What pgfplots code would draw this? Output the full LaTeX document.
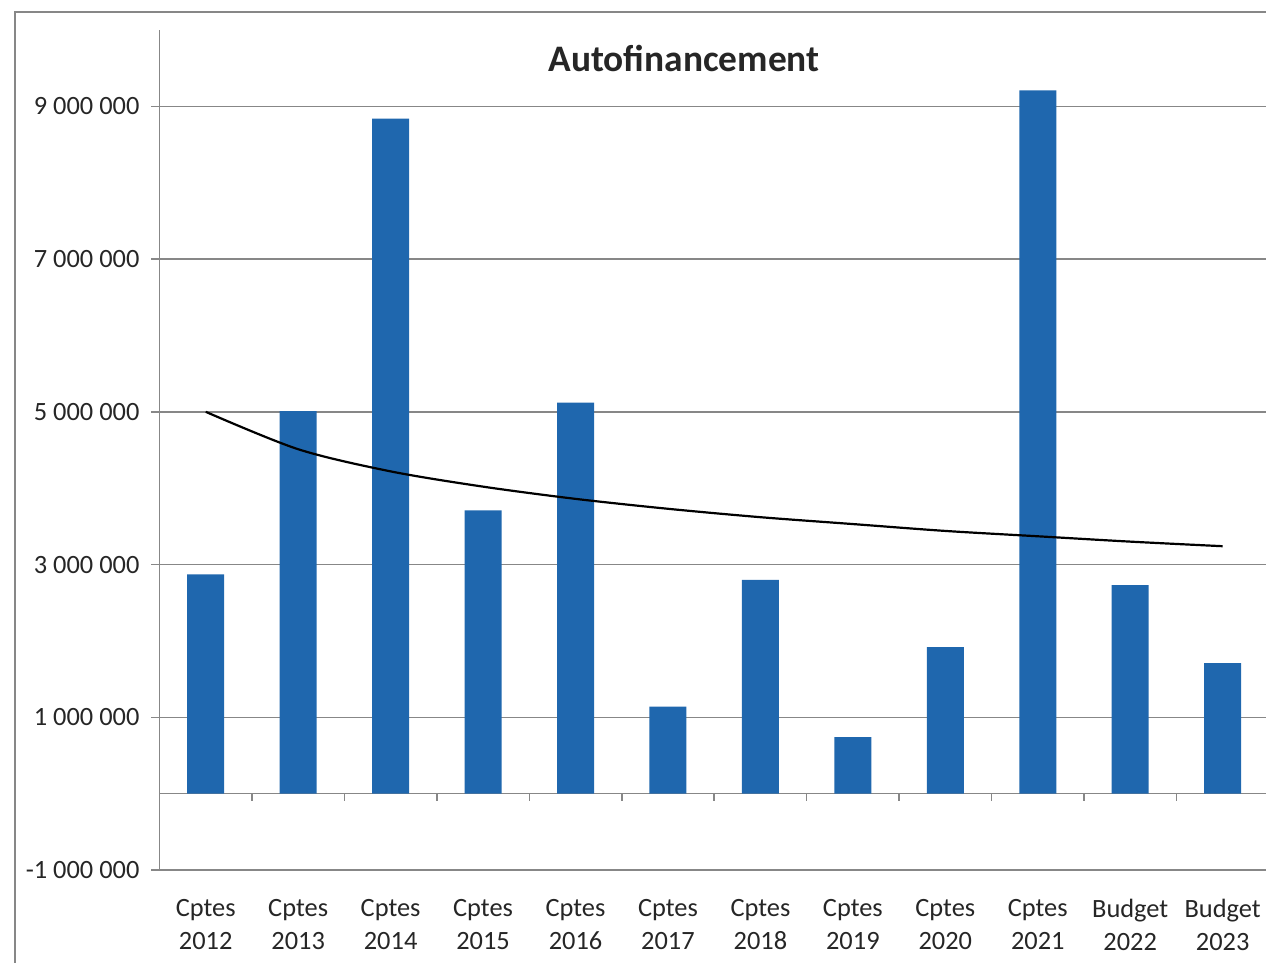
\documentclass[border=0pt]{standalone}
\usepackage{fontspec}
\setmainfont{Carlito}
\usepackage{pgfplots}
\pgfplotsset{compat=1.18}
\definecolor{barblue}{RGB}{31,103,174}
\definecolor{gridgray}{RGB}{135,135,135}
\begin{document}
\begin{tikzpicture}
\useasboundingbox (0,0) rectangle (633pt,481.5pt);
% scanned page frame
\draw[gridgray, line width=0.7pt] (7.5pt,0) -- (7.5pt,475.5pt) -- (640pt,475.5pt);
\node[font=\bfseries\fontsize{18.7}{20}\selectfont, text=black!85] at (342pt,452pt) {Autofinancement};
\begin{axis}[
  at={(79.75pt,46.5pt)}, anchor=south west,
  scale only axis, width=554.7pt, height=420pt,
  xmin=0.5, xmax=12.5,
  ymin=-1000000, ymax=10000000,
  scaled y ticks=false,
  axis y line*=left, axis x line*=bottom,
  axis line style={gridgray, line width=0.75pt},
  xtick={1,...,12},
  xticklabels={{Cptes\\2012},{Cptes\\2013},{Cptes\\2014},{Cptes\\2015},{Cptes\\2016},{Cptes\\2017},{Cptes\\2018},{Cptes\\2019},{Cptes\\2020},{Cptes\\2021},{Budget\\2022},{Budget\\2023}},
  xtick style={draw=none},
  x tick label style={align=center, font=\fontsize{13.2}{16.5}\selectfont, text=black!85, yshift=-7pt},
  ytick={-1000000,1000000,3000000,5000000,7000000,9000000},
  yticklabels={-1 000 000,1 000 000,3 000 000,5 000 000,7 000 000,9 000 000},
  y tick label style={font=\fontsize{13.2}{15}\selectfont, text=black!85, xshift=-2.5pt},
  tick align=outside, major tick length=4pt,
  ytick style={gridgray, line width=0.75pt},
  ymajorgrids=true,
  grid style={gridgray, line width=0.75pt},
  extra y ticks={0}, extra y tick labels={},
  extra y tick style={grid=major, major tick length=0pt},
  clip=false,
]
\addplot[ybar, bar width=18.5pt, fill=barblue, draw=none] coordinates {
  (1,2870000) (2,5010000) (3,8840000) (4,3710000) (5,5120000) (6,1140000)
  (7,2800000) (8,740000) (9,1920000) (10,9210000) (11,2730000) (12,1710000)
};
% tick marks on the zero line between categories
\addplot[ycomb, gridgray, line width=0.75pt, no marks] coordinates {
  (1.5,-100000) (2.5,-100000) (3.5,-100000) (4.5,-100000) (5.5,-100000) (6.5,-100000)
  (7.5,-100000) (8.5,-100000) (9.5,-100000) (10.5,-100000) (11.5,-100000)
};
% trend line
\addplot[black, line width=1.1pt, smooth, no marks] coordinates {
  (1,5000000) (2,4510000) (3,4220000) (4,4020000) (5,3860000) (6,3730000)
  (7,3620000) (8,3530000) (9,3440000) (10,3370000) (11,3300000) (12,3240000)
};
\end{axis}
\end{tikzpicture}
\end{document}
